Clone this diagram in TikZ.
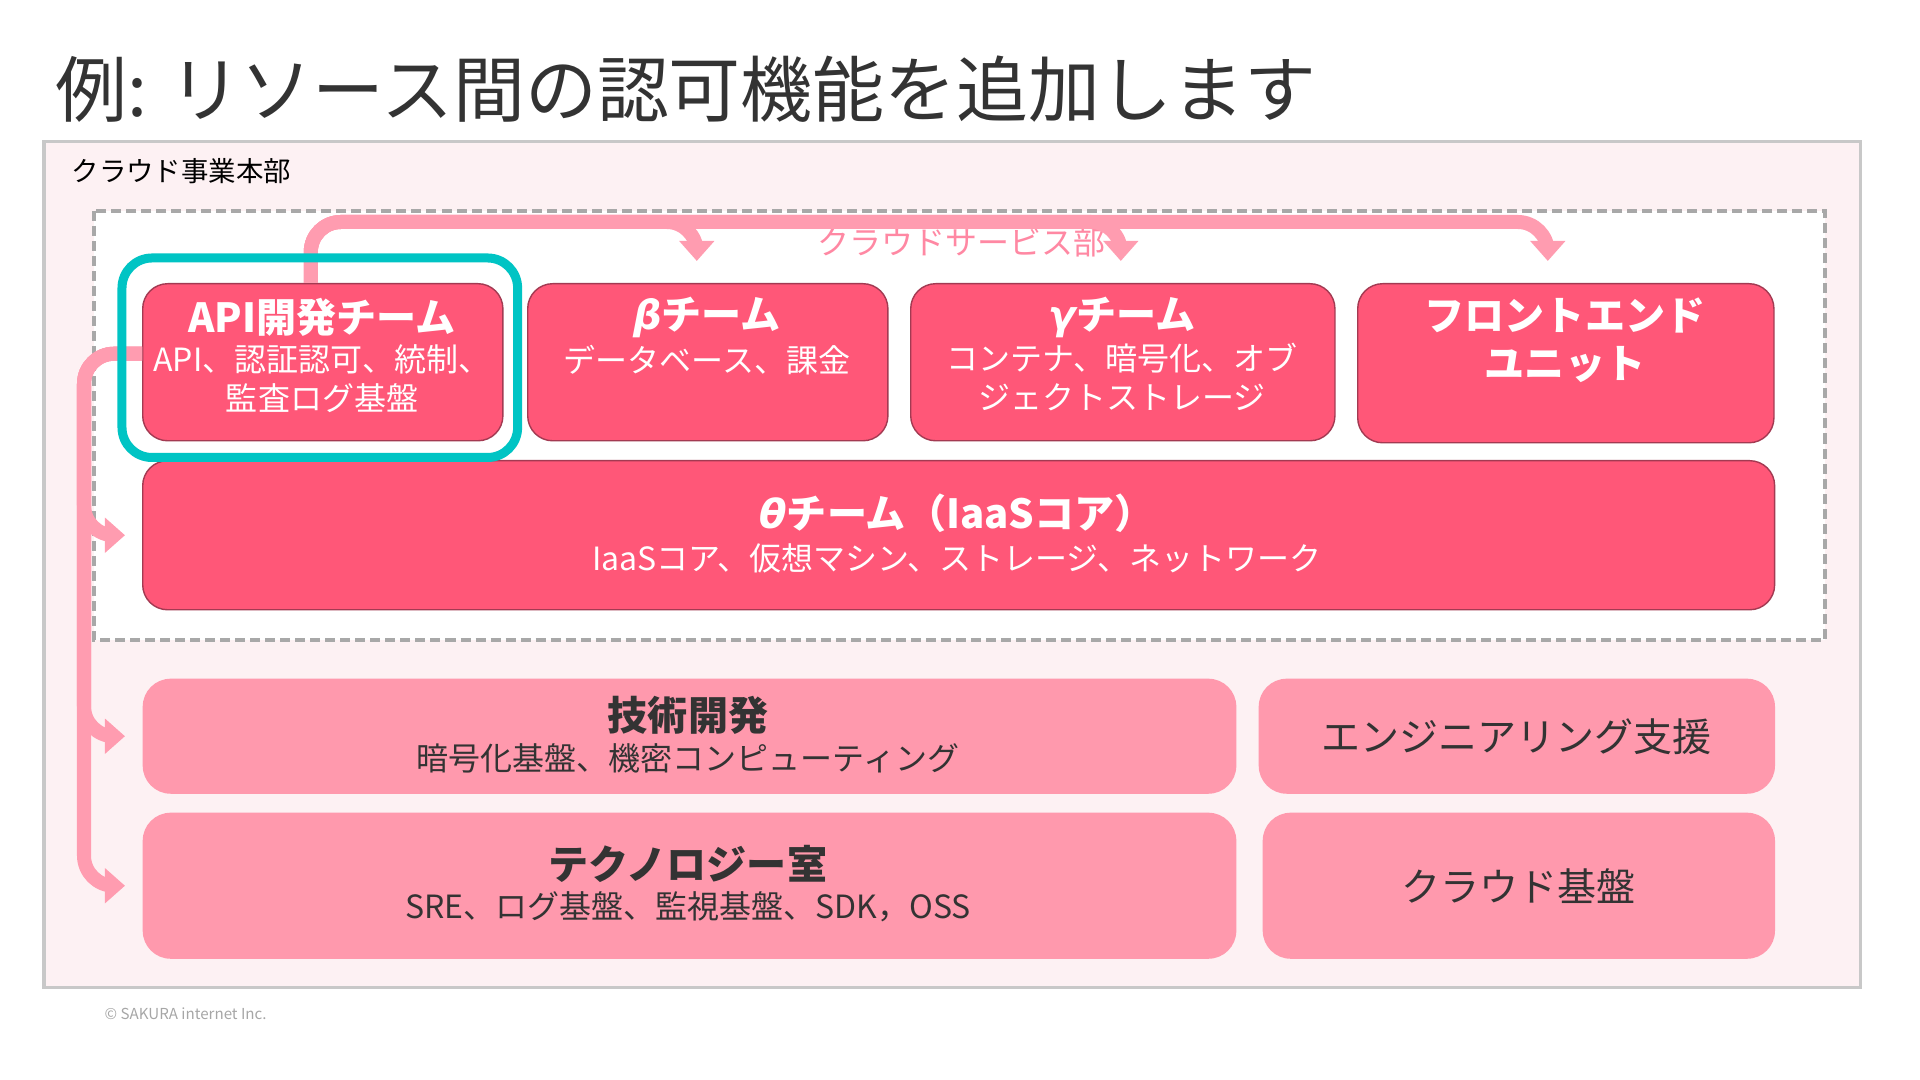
\documentclass[tikz,border=0pt]{standalone}
\usepackage{fontspec}
\setmainfont{Noto Sans CJK JP}
\newfontfamily\greekfont{DejaVu Sans}
\usetikzlibrary{arrows.meta,positioning}
\definecolor{OrgRose}{HTML}{FF5778}
\definecolor{OrgRoseEdge}{HTML}{A33A52}
\definecolor{OrgBlush}{HTML}{FF99AD}
\definecolor{OrgArrow}{HTML}{FF9CB0}
\definecolor{OrgMist}{HTML}{FDF1F3}
\definecolor{OrgFrame}{HTML}{C8C8C8}
\definecolor{OrgDash}{HTML}{A8A8A8}
\definecolor{OrgCyan}{HTML}{00C4C4}
\definecolor{OrgInk}{HTML}{333333}
\definecolor{OrgLabel}{HTML}{FF88A3}
\newcommand{\greek}[1]{{\greekfont\bfseries\itshape #1}}

\begin{document}
\begin{tikzpicture}[x=0.01cm, y=-0.01cm, >=Stealth,
    team/.style={draw=OrgRoseEdge, line width=0.4pt, fill=OrgRose, rounded corners=0.25cm, inner sep=0, anchor=north west},
    unit/.style={fill=OrgBlush, rounded corners=0.28cm, inner sep=0, anchor=north west},
    head/.style={font=\fontsize{11.4}{13.7}\selectfont\bfseries, align=center, inner sep=0},
    sub/.style={font=\fontsize{9.1}{11.1}\selectfont, align=center, inner sep=0},
    plain/.style={font=\fontsize{11.1}{13.7}\selectfont, text=OrgInk, inner sep=0},
    flow/.style={OrgArrow, line width=0.14cm, rounded corners=0.3cm, -{Triangle[length=0.2cm, width=0.34cm]}},
]
    \useasboundingbox (0,0) rectangle (1920,1080);

    % ========== Title ==========
    \node[anchor=west, inner sep=0, text=OrgInk, font=\fontsize{20.45}{24}\selectfont] (title) at (55,89) {例: リソース間の認可機能を追加します};

    % ========== Outer frame ==========
    \draw[OrgFrame, line width=0.03cm, fill=OrgMist] (44,142) rectangle (1860,988);
    \node[anchor=west, inner sep=0, font=\fontsize{7.8}{9}\selectfont] (division) at (71,171) {クラウド事業本部};

    % Service department (dashed)
    \draw[OrgDash, line width=0.035cm, dash pattern=on 0.1cm off 0.05cm, fill=white] (94,211) rectangle (1825,640);
    \node[sub, text=OrgLabel] (service) at (961,242) {クラウドサービス部};

    % ========== Teams ==========
    \node[team, minimum width=3.6cm, minimum height=1.57cm] (api) at (142,283) {};
    \node[team, minimum width=3.6cm, minimum height=1.57cm] (beta) at (527,283) {};
    \node[team, minimum width=4.24cm, minimum height=1.57cm] (gamma) at (910,283) {};
    \node[team, minimum width=4.16cm, minimum height=1.59cm] (front) at (1357,283) {};
    \node[team, minimum width=16.31cm, minimum height=1.49cm] (theta) at (142,460) {};

    \node[head, white] (apihead) at (322,317) {API開発チーム};
    \node[sub, white] (apisub) at (322,379) {API、認証認可、統制、\\監査ログ基盤};
    \node[head, white] (betahead) at (707,317) {\greek{β}チーム};
    \node[sub, white] (betasub) at (707,360) {データベース、課金};
    \node[head, white] (gammahead) at (1122,317) {\greek{γ}チーム};
    \node[sub, white] (gammasub) at (1122,377) {コンテナ、暗号化、オブ\\ジェクトストレージ};
    \node[head, white] (fronthead) at (1565,340) {フロントエンド\\ユニット};
    \node[head, white] (thetahead) at (957,513) {\greek{θ}チーム（IaaSコア）};
    \node[sub, white] (thetasub) at (957,558) {IaaSコア、仮想マシン、ストレージ、ネットワーク};

    % ========== Other units ==========
    \node[unit, minimum width=10.93cm, minimum height=1.15cm] (techdev) at (142,678) {};
    \node[unit, minimum width=5.16cm, minimum height=1.15cm] (engsup) at (1258,678) {};
    \node[unit, minimum width=10.93cm, minimum height=1.46cm] (techroom) at (142,812) {};
    \node[unit, minimum width=5.12cm, minimum height=1.46cm] (cloudbase) at (1262,812) {};

    \node[head, text=OrgInk] (techdevhead) at (688,715) {技術開発};
    \node[sub, text=OrgInk] (techdevsub) at (688,758) {暗号化基盤、機密コンピューティング};
    \node[head, text=OrgInk] (techroomhead) at (688,864) {テクノロジー室};
    \node[sub, text=OrgInk] (techroomsub) at (688,907) {SRE、ログ基盤、監視基盤、SDK，OSS};
    \node[plain] (engsuptext) at (engsup) {エンジニアリング支援};
    \node[plain] (cloudbasetext) at (cloudbase) {クラウド基盤};

    % ========== Arrows from the API team ==========
    \coordinate (rail) at (0,222);
    \coordinate (trunk) at (84,0);
    \coordinate (apiup) at ([xshift=-0.12cm]api.north);
    \coordinate (apiout) at ([yshift=0.085cm]api.west);
    \coordinate (betain) at ([xshift=-0.11cm]beta.north);
    \coordinate (gammain) at ([xshift=-0.02cm]gamma.north);
    \coordinate (frontin) at ([xshift=-0.18cm]front.north);

    \draw[flow, shorten >=0.22cm] (apiup) |- (frontin |- rail) -- (frontin);
    \draw[flow, shorten >=0.22cm] (apiup) |- (gammain |- rail) -- (gammain);
    \draw[flow, shorten >=0.22cm] (apiup) |- (betain |- rail) -- (betain);

    \draw[flow, shorten >=0.17cm] (apiout) -| (trunk |- techroom.west) -- (techroom.west);
    \draw[flow, shorten >=0.17cm] (apiout) -| (trunk |- techdev.west) -- (techdev.west);
    \draw[flow, shorten >=0.17cm] (apiout) -| (trunk |- theta.west) -- (theta.west);

    % Highlight round the API team
    \draw[OrgCyan, line width=0.09cm, rounded corners=0.3cm] ([shift={(-0.2cm,0.25cm)}]api.north west) rectangle ([shift={(0.14cm,-0.16cm)}]api.south east);

    % Footer
    \node[anchor=west, inner sep=0, text=gray!70, font=\fontsize{4.3}{5}\selectfont] (copyright) at (104,1014) {© SAKURA internet Inc.};

\end{tikzpicture}
\end{document}
